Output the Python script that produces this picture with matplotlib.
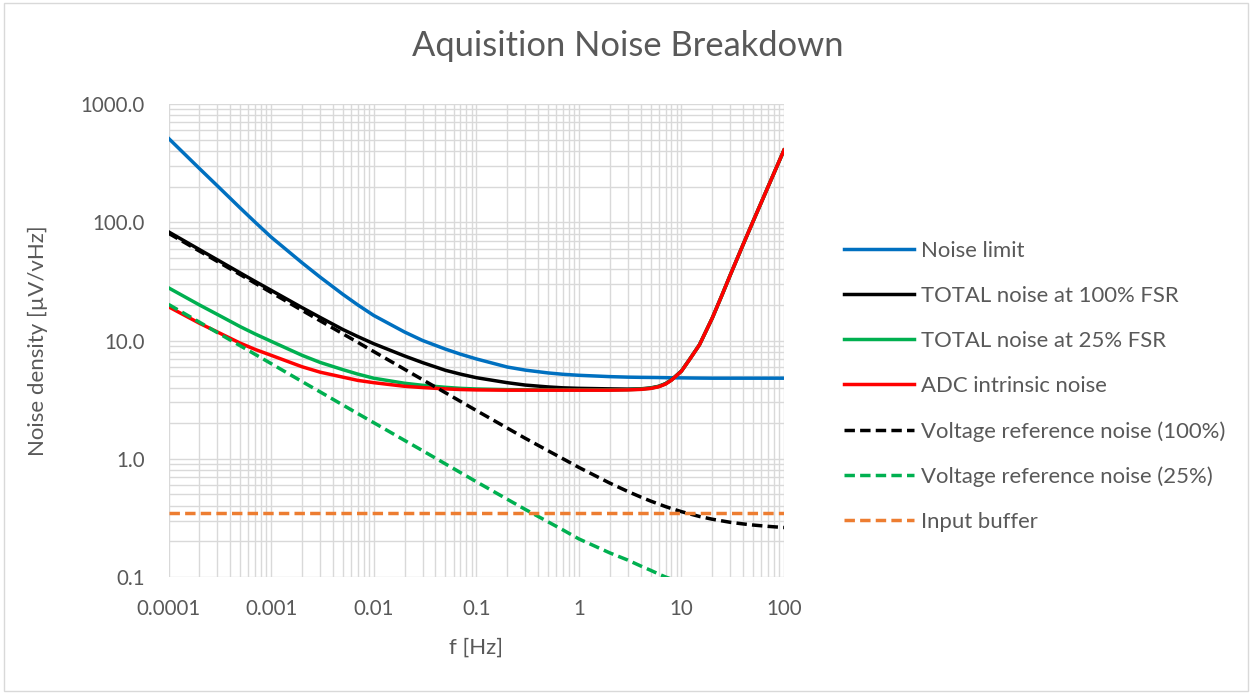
import numpy as np
import matplotlib.pyplot as plt
from matplotlib.patches import Rectangle

plt.rcParams['font.family'] = ['Lato', 'DejaVu Sans']

# frequency points (Hz)
freq = [1e-4, 2e-4, 3e-4, 5e-4, 7e-4,
        1e-3, 2e-3, 3e-3, 5e-3, 7e-3,
        1e-2, 2e-2, 3e-2, 5e-2, 7e-2,
        0.1, 0.2, 0.3, 0.5, 0.7,
        1, 2, 3, 4, 5, 6, 7, 8,
        10, 12, 15, 20, 25, 30, 40, 50, 70, 100]

# noise densities (uV/rtHz)
noise_limit = [513, 285, 203, 132, 100,
               75, 45.5, 34.4, 24.6, 20.0,
               16.3, 11.8, 10.0, 8.46, 7.67,
               6.99, 5.97, 5.62, 5.32, 5.18,
               5.08, 4.95, 4.9, 4.88, 4.87, 4.86, 4.85, 4.84,
               4.83, 4.82, 4.81, 4.8, 4.8, 4.8, 4.8, 4.8, 4.8, 4.8]
total_100 = [83.0, 58.8, 48.1, 37.3, 31.6,
             26.6, 19.0, 15.7, 12.4, 10.8,
             9.4, 7.4, 6.5, 5.6, 5.2,
             4.85, 4.4, 4.2, 4.05, 3.98,
             3.94, 3.9, 3.88, 3.9, 3.97, 4.1, 4.32, 4.65,
             5.52, 6.92, 9.22, 15.5, 24.5, 36.0, 65.0, 102, 200, 408]
total_25 = [27.9, 20.0, 16.6, 13.1, 11.35,
            9.85, 7.5, 6.53, 5.67, 5.2,
            4.8, 4.35, 4.18, 4.02, 3.94,
            3.89, 3.84, 3.83, 3.82, 3.82,
            3.82, 3.82, 3.84, 3.88, 3.95, 4.08, 4.3, 4.64,
            5.51, 6.91, 9.21, 15.5, 24.5, 36.0, 65.0, 102, 200, 408]
adc_noise = [19.3, 14.0, 11.8, 9.5, 8.4,
             7.5, 6.0, 5.4, 4.9, 4.6,
             4.4, 4.1, 4.0, 3.9, 3.85,
             3.82, 3.8, 3.8, 3.8, 3.8,
             3.8, 3.8, 3.82, 3.86, 3.93, 4.06, 4.28, 4.62,
             5.5, 6.9, 9.2, 15.5, 24.5, 36.0, 65.0, 102, 200, 408]
vref_100 = [80.7, 57.1, 46.6, 36.1, 30.5,
            25.5, 18.0, 14.7, 11.4, 9.65,
            8.07, 5.71, 4.66, 3.62, 3.06,
            2.56, 1.82, 1.49, 1.17, 1.0,
            0.845, 0.623, 0.529, 0.475, 0.439, 0.414, 0.394, 0.379,
            0.357, 0.342, 0.325, 0.308, 0.298, 0.290, 0.281, 0.275, 0.268, 0.262]
vref_25 = [20.2, 14.3, 11.65, 9.03, 7.63,
           6.38, 4.5, 3.68, 2.85, 2.41,
           2.02, 1.43, 1.17, 0.905, 0.765,
           0.64, 0.455, 0.373, 0.293, 0.25,
           0.21, 0.16, 0.139, 0.124, 0.114, 0.106, 0.1, 0.096,
           0.09, 0.086, 0.081, 0.077, 0.0745, 0.0725, 0.070, 0.069, 0.067, 0.0655]
input_buffer = [0.35] * len(freq)

x_ticks = [1e-4, 1e-3, 1e-2, 0.1, 1, 10, 100]
x_labels = ["0.0001", "0.001", "0.01", "0.1", "1", "10", "100"]
y_ticks = [0.1, 1, 10, 100, 1000]
y_labels = ["0.1", "1.0", "10.0", "100.0", "1000.0"]

txt = "#595959"
grid_c = "#D9D9D9"

fig = plt.figure(figsize=(12.52, 6.94), dpi=100)
ax = fig.add_axes([0.1346, 0.1686, 0.4916, 0.6815])

dash = (3, 1.5)
ax.plot(freq, noise_limit, color="#0070C0", lw=2.5, label="Noise limit")
ax.plot(freq, total_100, color="#000000", lw=2.5, label="TOTAL noise at 100% FSR")
ax.plot(freq, total_25, color="#00B050", lw=2.5, label="TOTAL noise at 25% FSR")
ax.plot(freq, adc_noise, color="#FF0000", lw=2.5, label="ADC intrinsic noise")
ax.plot(freq, vref_100, color="#000000", lw=2.5, dashes=dash, label="Voltage reference noise (100%)")
ax.plot(freq, vref_25, color="#00B050", lw=2.5, dashes=dash, label="Voltage reference noise (25%)")
ax.plot(freq, input_buffer, color="#ED7D31", lw=2.5, dashes=dash, label="Input buffer")

ax.set_xscale("log")
ax.set_yscale("log")
ax.set_xlim(1e-4, 100)
ax.set_ylim(0.1, 1000)
ax.set_xticks(x_ticks)
ax.set_xticklabels(x_labels)
ax.set_yticks(y_ticks)
ax.set_yticklabels(y_labels)
ax.minorticks_on()
ax.tick_params(which="both", length=0, colors=txt, labelsize=14.8)
ax.tick_params(axis="x", pad=16)
ax.tick_params(axis="y", pad=17)
ax.tick_params(which="minor", labelbottom=False, labelleft=False)
ax.grid(True, which="both", color=grid_c, lw=1.0)
ax.set_axisbelow(True)
for s in ax.spines.values():
    s.set_visible(False)

ax.set_xlabel("f [Hz]", color=txt, fontsize=16, labelpad=13)
ax.set_ylabel("Noise density [µV/vHz]", color=txt, fontsize=16)
ax.yaxis.set_label_coords(-0.195, 0.5)
fig.suptitle("Aquisition Noise Breakdown", x=0.5016, y=0.957, color=txt, fontsize=24.8)

leg = ax.legend(loc="center left", bbox_to_anchor=(0.665, 0.443), bbox_transform=fig.transFigure,
                frameon=False, fontsize=15.9, handlelength=3.17, handletextpad=0.32,
                labelspacing=1.13, borderpad=0)
for t in leg.get_texts():
    t.set_color(txt)

# chart outer border
fig.patches.append(Rectangle((0.003, 0.005), 0.994, 0.99, transform=fig.transFigure,
                             fill=False, edgecolor=grid_c, lw=1.0))

fig.savefig("out.png", dpi=100)
